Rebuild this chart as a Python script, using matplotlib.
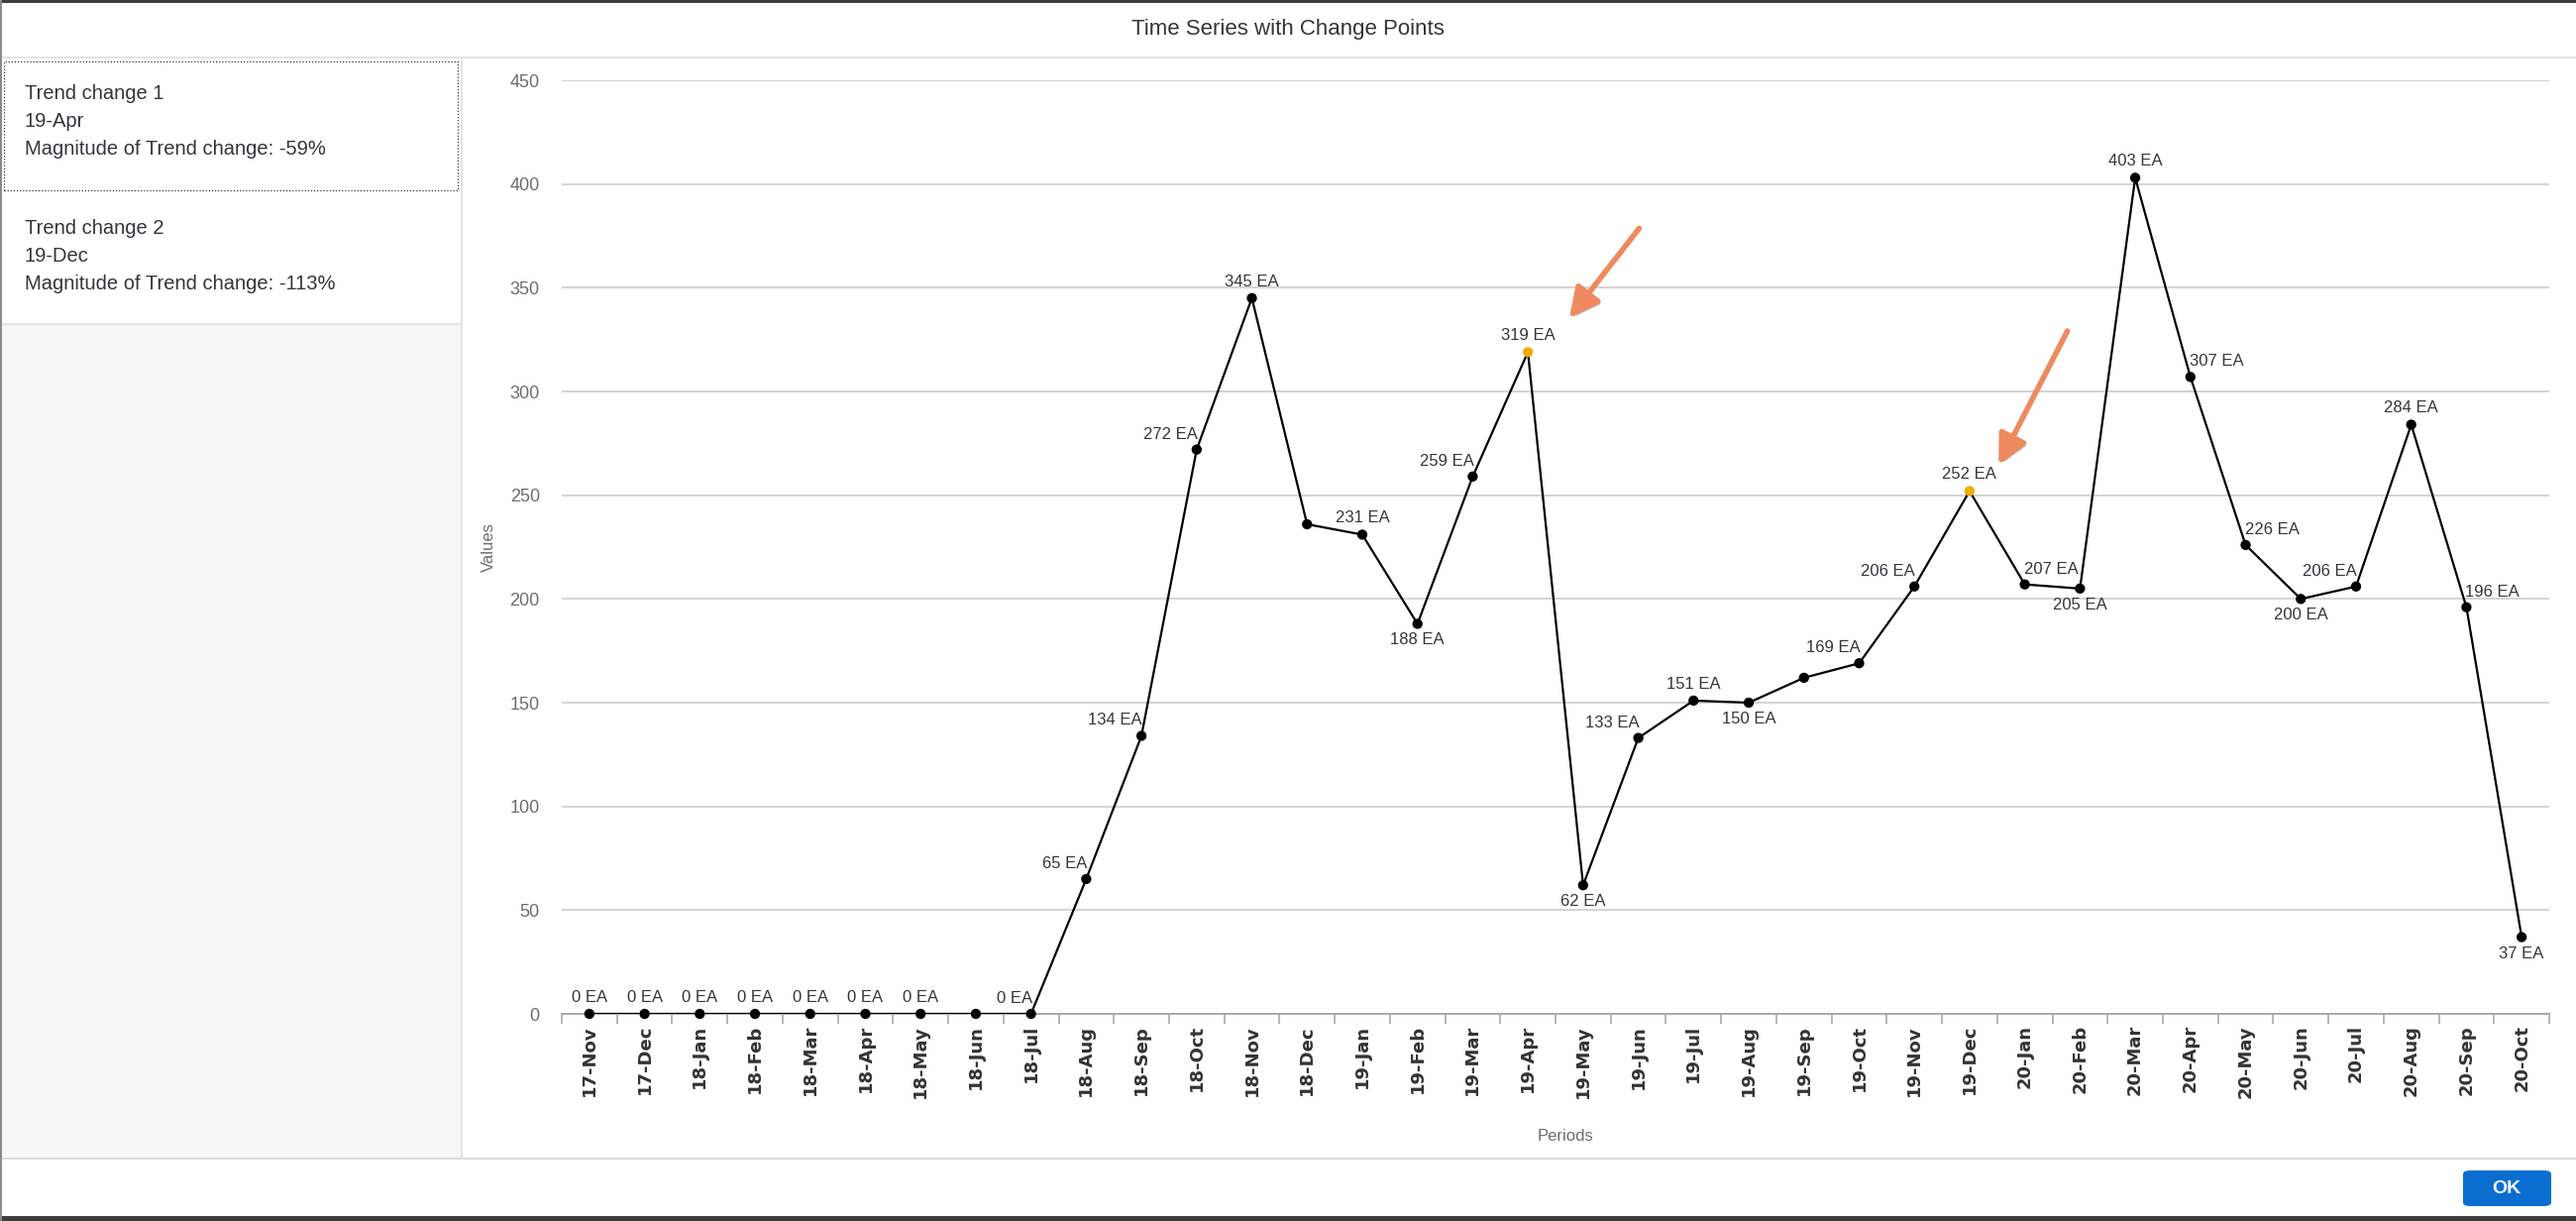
import matplotlib
matplotlib.use("Agg")
import matplotlib.pyplot as plt
import matplotlib.patheffects as pe
from matplotlib.patches import Rectangle, FancyBboxPatch
import numpy as np


W, H = 2600, 1232

PERIODS = [
    "17-Nov", "17-Dec", "18-Jan", "18-Feb", "18-Mar", "18-Apr", "18-May", "18-Jun",
    "18-Jul", "18-Aug", "18-Sep", "18-Oct", "18-Nov", "18-Dec", "19-Jan", "19-Feb",
    "19-Mar", "19-Apr", "19-May", "19-Jun", "19-Jul", "19-Aug", "19-Sep", "19-Oct",
    "19-Nov", "19-Dec", "20-Jan", "20-Feb", "20-Mar", "20-Apr", "20-May", "20-Jun",
    "20-Jul", "20-Aug", "20-Sep", "20-Oct",
]
VALUES = [
    0, 0, 0, 0, 0, 0, 0, 0,
    0, 65, 134, 272, 345, 236, 231, 188,
    259, 319, 62, 133, 151, 150, 162, 169,
    206, 252, 207, 205, 403, 307, 226, 200,
    206, 284, 196, 37,
]
# where each value label sits: c above, l above-left, r above-right, b below, "" none
LABEL_POS = [
    "c", "c", "c", "c", "c", "c", "c", "",
    "l", "l", "l", "l", "c", "", "c", "b",
    "l", "c", "b", "l", "c", "b", "", "l",
    "l", "c", "r", "b", "c", "r", "r", "b",
    "l", "c", "r", "b",
]
CHANGE_POINTS = ["19-Apr", "19-Dec"]
PANEL_ITEMS = [
    ("Trend change 1", "19-Apr", "Magnitude of Trend change: -59%"),
    ("Trend change 2", "19-Dec", "Magnitude of Trend change: -113%"),
]

TEXT = "#32363a"
GREY_TEXT = "#6a6d70"
ORANGE = "#f0ab00"
ARROW = "#ee8a5e"

plt.rcParams["font.family"] = ["Liberation Sans", "DejaVu Sans"]


def fx(x):
    return x / W


def fy(y):
    return 1 - y / H


def box(x0, y0, x1, y1, **kw):
    r = Rectangle((fx(x0), fy(y1)), fx(x1) - fx(x0), fy(y0) - fy(y1),
                  transform=fig.transFigure, **kw)
    fig.add_artist(r)
    return r


fig = plt.figure(figsize=(W / 100, H / 100), dpi=100)
fig.patch.set_facecolor("white")

# dialog chrome
box(0, 328, 466, 1169, facecolor="#f7f7f7", edgecolor="none", zorder=0)
box(0, 57, W, 59, facecolor="#e2e2e2", edgecolor="none", zorder=1)
box(465, 58, 467, 1169, facecolor="#e5e5e5", edgecolor="none", zorder=1)
box(0, 326, 466, 328, facecolor="#e5e5e5", edgecolor="none", zorder=1)
box(0, 1168, W, 1170, facecolor="#dcdcdc", edgecolor="none", zorder=1)
box(0, 1227, W, H, facecolor="#3c3c3c", edgecolor="none", zorder=1)
box(0, 0, W, 3, facecolor="#3c3c3c", edgecolor="none", zorder=1)
box(0, 0, 2, H, facecolor="#8a8a8a", edgecolor="none", zorder=1)
box(4, 62, 462, 192, facecolor="none", edgecolor="#333333",
    linestyle=(0, (1, 1.5)), linewidth=0.9, zorder=2)

fig.text(0.5, fy(30), "Time Series with Change Points", ha="center", va="center",
         fontsize=16, color=TEXT)

for i, (name, period, magnitude) in enumerate(PANEL_ITEMS):
    top = 95 + i * 135
    for j, line in enumerate((name, period, magnitude)):
        fig.text(fx(25), fy(top + j * 28), line, ha="left", va="center",
                 fontsize=14.5, color=TEXT)

# OK button
ok = FancyBboxPatch((fx(2486), fy(1217)), fx(2575) - fx(2486), fy(1181) - fy(1217),
                    boxstyle="round,pad=0,rounding_size=0.003",
                    transform=fig.transFigure, facecolor="#0a6ed1", edgecolor="none")
fig.add_artist(ok)
fig.text(fx(2530), fy(1199), "OK", ha="center", va="center", fontsize=14,
         fontweight="bold", color="white")

# chart
ax = fig.add_axes([fx(567), fy(1023), fx(2573) - fx(567), fy(81) - fy(1023)])
x = np.arange(len(PERIODS))
ax.set_xlim(-0.5, len(PERIODS) - 0.5)
ax.set_ylim(0, 450)
ax.plot(x, VALUES, color="black", linewidth=1.6, zorder=3)
colors = [ORANGE if p in CHANGE_POINTS else "black" for p in PERIODS]
ax.scatter(x, VALUES, s=55, c=colors, zorder=4, clip_on=False, linewidths=0)

for xi, v, pos in zip(x, VALUES, LABEL_POS):
    if not pos:
        continue
    label = f"{v} EA"
    if pos == "c":
        ax.annotate(label, (xi, v), xytext=(0, 9), textcoords="offset pixels",
                    ha="center", va="bottom", fontsize=12, color=TEXT)
    elif pos == "l":
        ax.annotate(label, (xi, v), xytext=(1, 8), textcoords="offset pixels",
                    ha="right", va="bottom", fontsize=12, color=TEXT)
    elif pos == "r":
        ax.annotate(label, (xi, v), xytext=(-1, 8), textcoords="offset pixels",
                    ha="left", va="bottom", fontsize=12, color=TEXT)
    else:
        ax.annotate(label, (xi, v), xytext=(0, -9), textcoords="offset pixels",
                    ha="center", va="top", fontsize=12, color=TEXT)

# hand-drawn style arrows pointing at the change points
arrow_offsets = [((40, 32), (114, 127)), ((28, 24), (100, 164))]
for period, (head, tail) in zip(CHANGE_POINTS, arrow_offsets):
    i = PERIODS.index(period)
    hx, hy = ax.transData.transform((i, VALUES[i]))
    ax.annotate("", xy=(hx + head[0], hy + head[1]), xycoords="figure pixels",
                xytext=(hx + tail[0], hy + tail[1]), textcoords="figure pixels",
                arrowprops=dict(arrowstyle="-|>,head_length=0.9,head_width=0.45",
                                color=ARROW, lw=4, mutation_scale=20,
                                path_effects=[pe.SimplePatchShadow(offset=(2, -2), alpha=0.3),
                                              pe.Normal()]),
                zorder=6)

ax.set_yticks(np.arange(0, 451, 50))
ax.set_xticks(x)
ax.set_xticklabels(PERIODS, rotation=90, fontsize=13, fontweight="bold",
                   family="DejaVu Sans", color="#333333")
ax.set_xticks(np.arange(-0.5, len(PERIODS), 1), minor=True)
ax.tick_params(axis="x", which="major", length=0, pad=8)
ax.tick_params(axis="x", which="minor", length=7, color="#a9a9a9", width=1.2)
ax.tick_params(axis="y", length=0, pad=16, labelsize=13, labelcolor=GREY_TEXT)
ax.grid(axis="y", color="#d3d3d3", linewidth=1.4)
ax.set_axisbelow(True)
for side in ("top", "right", "left"):
    ax.spines[side].set_visible(False)
ax.spines["bottom"].set_color("#a9a9a9")
ax.spines["bottom"].set_linewidth(1.4)

ax.set_ylabel("Values", fontsize=12, color=GREY_TEXT)
ax.yaxis.set_label_coords(-0.033, 0.5)
ax.set_xlabel("Periods", fontsize=12, color=GREY_TEXT)
ax.xaxis.set_label_coords(0.505, -0.123)

fig.savefig("out.png", dpi=100)
